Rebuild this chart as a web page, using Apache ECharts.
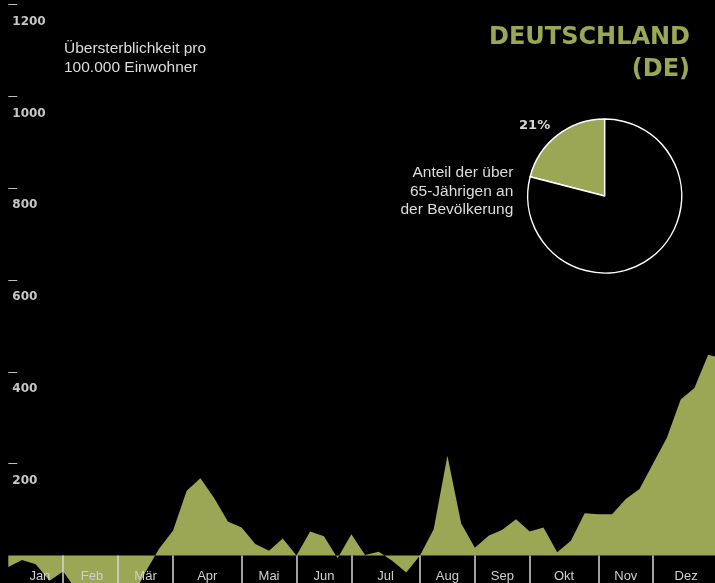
<!DOCTYPE html>
<html>
<head>
<meta charset="utf-8">
<style>
  html, body { margin: 0; padding: 0; background: #000; }
  #chart { width: 715px; height: 583px; }
</style>
<script src="https://cdn.jsdelivr.net/npm/echarts@6/dist/echarts.min.js"></script>
</head>
<body>
<div id="chart"></div>
<script>
// Weekly excess mortality per 100,000 inhabitants (week index 0..52)
const weeklyExcess = [
  -25, -10, -19, -55, -35, -77, -88, -95, -85, -95,
  -36, 15, 54, 141, 168, 125, 74, 61, 25, 10,
  37, 0, 52, 42, -6, 46, 1, 8, -12, -37,
  0, 57, 217, 70, 17, 43, 56, 79, 52, 61,
  7, 32, 92, 90, 90, 123, 145, 201, 257, 340,
  365, 437, 430
];
const monthNames = ['Jan', 'Feb', 'Mär', 'Apr', 'Mai', 'Jun', 'Jul', 'Aug', 'Sep', 'Okt', 'Nov', 'Dez'];
// Month boundaries (in weeks) and label centres (in weeks)
const monthBounds = [4, 8, 12, 17, 21, 25, 30, 34, 38, 43, 47];
const monthCenters = [2.3, 6.1, 10, 14.5, 19, 23, 27.5, 32, 36, 40.5, 45, 49.4];
const yTicks = [200, 400, 600, 800, 1000, 1200];
// Share of population over 65
const pieData = [
  { name: 'über 65', value: 21 },
  { name: 'unter 65', value: 79 }
];

const GREEN = '#9BA754';

function monthLabel(v) {
  let best = 0;
  for (let i = 0; i < monthCenters.length; i++) {
    if (Math.abs(monthCenters[i] - v) < Math.abs(monthCenters[best] - v)) best = i;
  }
  return monthNames[best];
}

const chart = echarts.init(document.getElementById('chart'), null, { renderer: 'canvas' });

const option = {
  backgroundColor: '#000',
  animation: false,
  grid: { left: 8.3, right: 0, top: 0, bottom: 0, containLabel: false, outerBoundsMode: 'none' },
  xAxis: {
    type: 'value',
    min: 0,
    max: 51.5,
    z: 5,
    splitLine: { show: false },
    axisLine: { show: false, onZero: true },
    axisTick: {
      show: true,
      customValues: monthBounds,
      length: 28,
      lineStyle: { color: '#d6d6d6', width: 1.5 }
    },
    axisLabel: {
      show: true,
      customValues: monthCenters,
      margin: -13,
      hideOverlap: false,
      fontFamily: 'Liberation Sans',
      fontSize: 13,
      color: '#cfcfcf',
      formatter: monthLabel
    }
  },
  yAxis: {
    type: 'value',
    min: -60,
    max: 1210,
    splitLine: { show: false },
    axisLine: { show: false },
    axisTick: {
      show: true,
      inside: true,
      length: 9,
      customValues: yTicks,
      lineStyle: { color: '#bdbdbd', width: 1 }
    },
    axisLabel: {
      show: true,
      inside: true,
      customValues: yTicks,
      margin: 4,
      verticalAlign: 'top',
      padding: [11, 0, 0, 0],
      fontFamily: 'DejaVu Sans',
      fontWeight: 'bold',
      fontSize: 12,
      color: '#c6c6c6',
      formatter: function (v) { return String(v); }
    }
  },
  series: [
    {
      type: 'line',
      data: weeklyExcess.map(function (v, i) { return [i, v]; }),
      symbol: 'none',
      lineStyle: { width: 0, opacity: 0 },
      areaStyle: { color: GREEN, opacity: 1 },
      itemStyle: { color: GREEN },
      z: 2
    },
    {
      type: 'pie',
      center: [604.7, 196],
      radius: 77,
      startAngle: 90,
      clockwise: false,
      z: 3,
      data: pieData,
      itemStyle: { borderColor: '#ffffff', borderWidth: 1.5 },
      color: [GREEN, '#000000'],
      label: {
        show: true,
        position: 'outside',
        distanceToLabelLine: 0,
        fontFamily: 'DejaVu Sans',
        fontWeight: 'bold',
        fontSize: 13,
        color: '#d8d8d8',
        formatter: function (p) {
          return p.dataIndex === 0 ? p.value + '%' : '';
        }
      },
      labelLine: { show: false, length: 12, length2: 0 },
      emphasis: { disabled: true }
    }
  ],
  graphic: [
    {
      type: 'text',
      x: 690,
      y: 22.3,
      style: {
        text: 'DEUTSCHLAND\n(DE)',
        align: 'right',
        verticalAlign: 'top',
        fill: GREEN,
        fontFamily: 'DejaVu Sans',
        fontWeight: 'bold',
        fontSize: 24,
        lineHeight: 31.5
      }
    },
    {
      type: 'text',
      x: 64,
      y: 39.7,
      style: {
        text: 'Übersterblichkeit pro\n100.000 Einwohner',
        align: 'left',
        verticalAlign: 'top',
        fill: '#dcdcdc',
        fontFamily: 'Liberation Sans',
        fontSize: 15.5,
        lineHeight: 18.7
      }
    },
    {
      type: 'text',
      x: 513.3,
      y: 163.1,
      style: {
        text: 'Anteil der über\n65-Jährigen an\nder Bevölkerung',
        align: 'right',
        verticalAlign: 'top',
        fill: '#dcdcdc',
        fontFamily: 'Liberation Sans',
        fontSize: 15.5,
        lineHeight: 18.8
      }
    }
  ]
};

chart.setOption(option);
</script>
</body>
</html>
